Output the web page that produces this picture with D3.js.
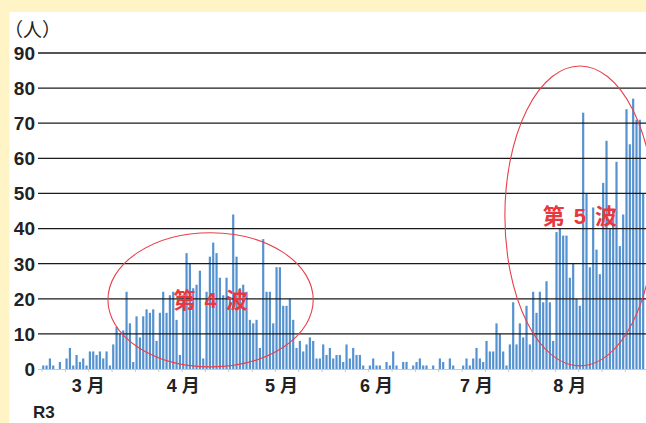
<!DOCTYPE html>
<html>
<head>
<meta charset="utf-8">
<script src="https://cdn.jsdelivr.net/npm/d3@7"></script>
<style>
  body { margin: 0; background: #fff4c6; }
  svg { display: block; }
</style>
</head>
<body>
<svg id="chart" width="646" height="423"></svg>
<script>
// daily new cases (R3), one value per day
const cases = [
  1, 1, 3, 1, 0, 2, 0, 3, 6, 1, 4, 2, 3, 1, 5, 5, 4, 5, 3, 5,
  1, 7, 12, 10, 11, 22, 13, 2, 15, 9, 15, 17, 16, 17, 8, 16, 22, 16, 21, 22,
  14, 4, 21, 33, 30, 23, 24, 28, 3, 22, 32, 36, 33, 26, 21, 26, 20, 44, 32, 23,
  24, 22, 14, 13, 14, 6, 37, 22, 22, 13, 29, 29, 18, 18, 20, 14, 6, 8, 5, 7,
  9, 8, 3, 3, 7, 4, 6, 3, 4, 4, 2, 7, 3, 6, 4, 4, 1, 0, 1, 3,
  1, 1, 0, 2, 1, 5, 1, 0, 2, 2, 0, 1, 2, 3, 1, 1, 0, 1, 0, 3,
  2, 0, 3, 1, 0, 0, 1, 3, 1, 3, 6, 3, 2, 8, 5, 5, 13, 10, 5, 1,
  7, 19, 7, 13, 9, 18, 7, 22, 16, 22, 19, 25, 19, 8, 39, 40, 38, 38, 26, 30,
  20, 18, 73, 50, 29, 46, 34, 27, 53, 65, 40, 45, 59, 35, 44, 74, 64, 77, 71, 71,
  50
];
const totalDays = 182;               // 26 weeks on the axis
const yTicks = [0, 10, 20, 30, 40, 50, 60, 70, 80, 90];
const monthLabels = ["3 月", "4 月", "5 月", "6 月", "7 月", "8 月"];
const monthLabelDays = [14, 42.5, 72, 100.5, 130.5, 158.5];
const waveParts = [["第", "4", "波"], ["第", "5", "波"]];
const waveDay = [50.7, 161.5];
const waveValue = [19.7, 43.6];
const waveHalfDays = [30.8, 22.5];
const waveHalfValue = [19.1, 42.7];

const svg = d3.select("#chart");

// white chart panel on the beige page
svg.append("rect")
  .attr("x", 9.5).attr("y", 12)
  .attr("width", 646).attr("height", 423)
  .attr("fill", "#fff");

const x = d3.scaleLinear().domain([0, totalDays]).range([41.6, 648.2]);
const y = d3.scaleLinear().domain([0, 90]).range([369, 53]);
const step = x(1) - x(0);

// bars
svg.append("g")
  .selectAll("rect")
  .data(cases)
  .enter()
  .append("rect")
  .attr("x", (d, i) => x(i) + step * 0.16)
  .attr("width", step * 0.66)
  .attr("y", d => y(d))
  .attr("height", d => y(0) - y(d))
  .attr("fill", "#5592d0");

// gridlines
svg.append("g")
  .selectAll("line")
  .data(yTicks.filter(d => d > 0))
  .enter()
  .append("line")
  .attr("x1", 38).attr("x2", 646)
  .attr("y1", d => y(d)).attr("y2", d => y(d))
  .attr("stroke", "#1b1b1b")
  .attr("stroke-width", 1.3);

// baseline with weekly ticks
const xAxis = svg.append("g")
  .attr("transform", `translate(0,${y(0)})`)
  .call(d3.axisBottom(x)
    .tickValues(d3.range(0, totalDays + 1, 7))
    .tickSize(3)
    .tickFormat(""));
xAxis.select(".domain").attr("stroke", "#c8c8c8").attr("d", `M38,0.5H646`);
xAxis.selectAll(".tick line").attr("stroke", "#c8c8c8");

// y tick labels
svg.append("g")
  .selectAll("text")
  .data(yTicks)
  .enter()
  .append("text")
  .attr("x", 35)
  .attr("y", d => y(d))
  .attr("dy", "0.36em")
  .attr("text-anchor", "end")
  .attr("font-family", "'Liberation Sans', Arial, sans-serif")
  .attr("font-weight", "bold")
  .attr("font-size", 19)
  .attr("fill", "#222")
  .text(d => d);

svg.append("text")
  .attr("x", 4).attr("y", 37)
  .attr("font-family", "'Noto Sans CJK JP', sans-serif")
  .attr("font-size", 19)
  .attr("fill", "#222")
  .text("（人）");

// month labels
svg.append("g")
  .selectAll("text")
  .data(monthLabels)
  .enter()
  .append("text")
  .attr("x", (d, i) => x(monthLabelDays[i]))
  .attr("y", 392)
  .attr("text-anchor", "middle")
  .attr("font-family", "'Liberation Sans', 'Noto Sans CJK JP', sans-serif")
  .attr("font-weight", "bold")
  .attr("font-size", 18)
  .attr("fill", "#222")
  .text(d => d);

svg.append("text")
  .attr("x", 33).attr("y", 418)
  .attr("font-family", "'Liberation Sans', Arial, sans-serif")
  .attr("font-weight", "bold")
  .attr("font-size", 17)
  .attr("fill", "#222")
  .text("R3");

// wave ellipses and labels
svg.append("g")
  .selectAll("ellipse")
  .data(waveParts)
  .enter()
  .append("ellipse")
  .attr("cx", (d, i) => x(waveDay[i]))
  .attr("cy", (d, i) => y(waveValue[i]))
  .attr("rx", (d, i) => x(waveHalfDays[i]) - x(0))
  .attr("ry", (d, i) => y(0) - y(waveHalfValue[i]))
  .attr("fill", "none")
  .attr("stroke", "#e8404c")
  .attr("stroke-width", 1.1);

const waveText = svg.append("g")
  .selectAll("text")
  .data(waveParts)
  .enter()
  .append("text")
  .attr("x", (d, i) => x(waveDay[i]))
  .attr("y", (d, i) => y(waveValue[i]))
  .attr("dy", "0.36em")
  .attr("text-anchor", "middle")
  .attr("font-family", "'Liberation Sans', 'Noto Sans CJK JP', sans-serif")
  .attr("font-weight", "bold")
  .attr("font-size", 22)
  .attr("fill", "#e8383d");

waveText.selectAll("tspan")
  .data(d => d)
  .enter()
  .append("tspan")
  .attr("dx", (d, i) => (i === 0 ? 0 : 9))
  .text(d => d);
</script>
</body>
</html>
